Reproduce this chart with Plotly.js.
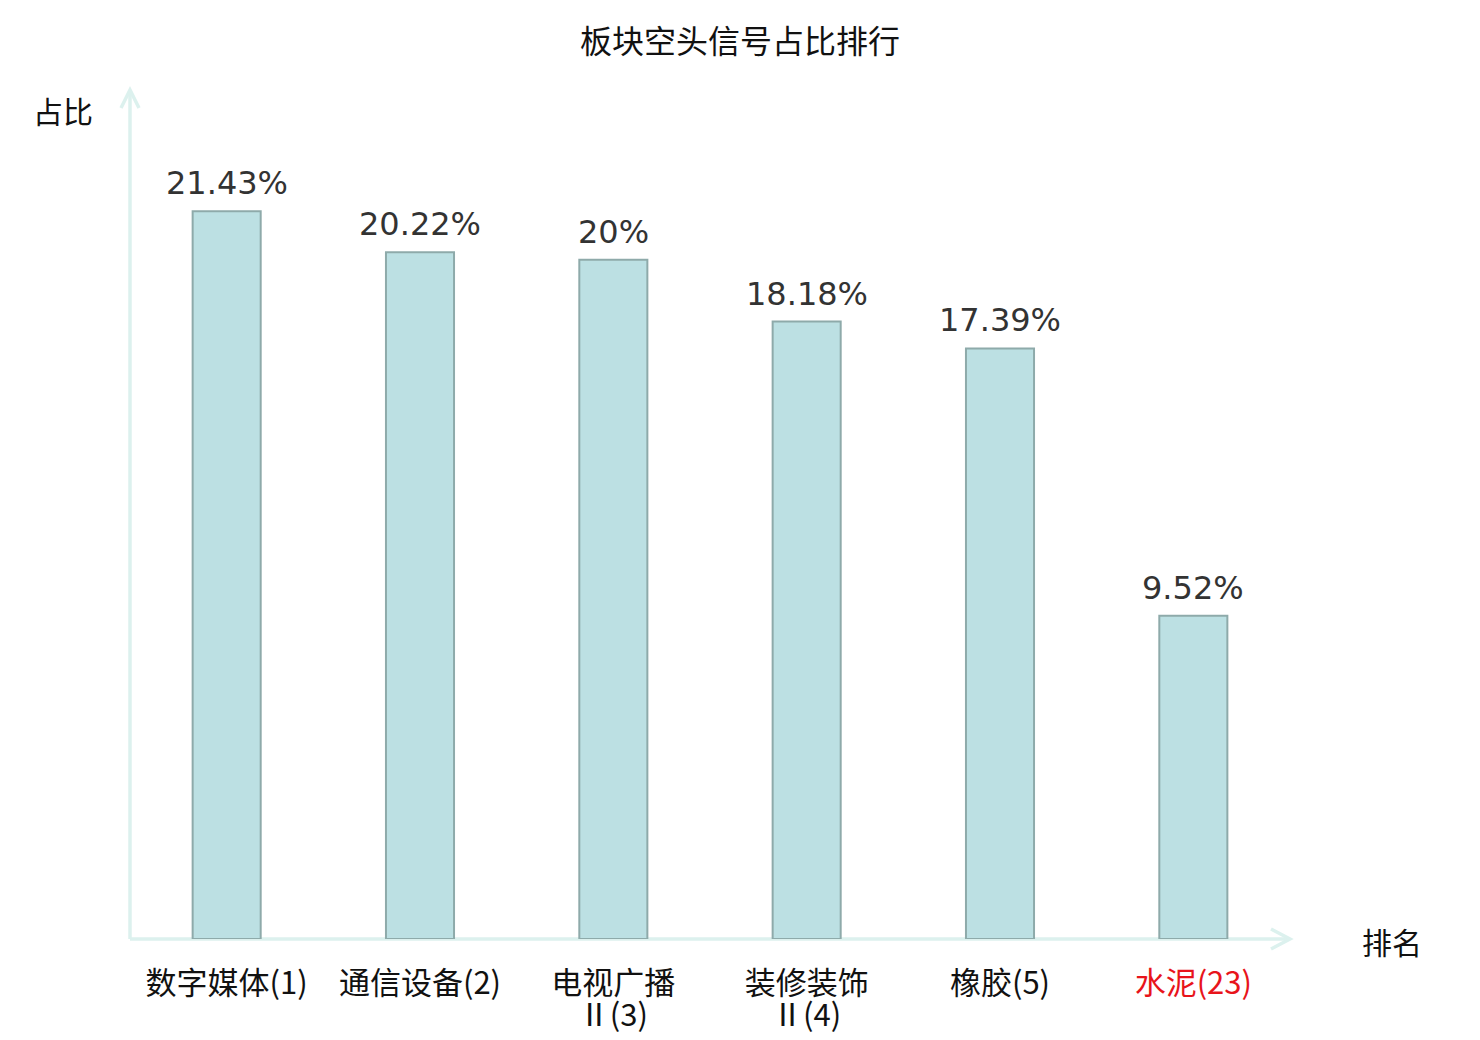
<!DOCTYPE html>
<html>
<head>
<meta charset="utf-8">
<script src="https://cdn.plot.ly/plotly-3.0.1.min.js"></script>
<style>html,body{margin:0;padding:0;background:#fff;}#chart{width:1480px;height:1040px;}</style>
</head>
<body>
<div id="chart"></div>
<script>
const categories = ['数字媒体(1)', '通信设备(2)', '电视广播Ⅱ(3)', '装修装饰Ⅱ(4)', '橡胶(5)', '水泥(23)'];
const tickLine1 = ['数字媒体(1)', '通信设备(2)', '电视广播', '装修装饰', '橡胶(5)', '<span style="color:#e8141b">水泥(23)</span>'];
const tickLine2 = ['', '', 'Ⅱ(3)', 'Ⅱ(4)', '', ''];
const values = [21.43, 20.22, 20, 18.18, 17.39, 9.52];
const valueLabels = ['21.43%', '20.22%', '20%', '18.18%', '17.39%', '9.52%'];

const W = 1480, H = 1040;
const L = 130, R = 1290, T = 90, B = 939;
const px = (dx) => dx / (R - L);
const py = (dy) => dy / (B - T);
const axisColor = '#dcf1ee';
const positions = categories.map((c, i) => i);

const trace = {
  type: 'bar',
  x: positions,
  y: values,
  marker: {color: '#bce0e3', line: {color: '#8eaaaa', width: 2}},
  hoverinfo: 'none'
};
const ghost = {
  type: 'scatter', mode: 'markers',
  x: positions, y: values, xaxis: 'x2', yaxis: 'y',
  marker: {opacity: 0}, hoverinfo: 'none'
};

const labelAnnotations = positions.map((p, i) => ({
  x: p, y: values[i], xref: 'x', yref: 'y',
  text: valueLabels[i], showarrow: false,
  yanchor: 'bottom', yshift: 7,
  font: {family: 'DejaVu Sans', size: 32, color: '#333333'}
}));

const tickFont = {family: 'Noto Sans CJK SC', size: 31, color: '#111111'};

const layout = {
  width: W, height: H,
  margin: {l: L, r: W - R, t: T, b: H - B},
  paper_bgcolor: '#ffffff', plot_bgcolor: '#ffffff',
  showlegend: false,
  bargap: 0.648,
  title: {
    text: '板块空头信号占比排行',
    x: 0.5, xref: 'container', xanchor: 'center',
    y: 1 - 42 / H, yref: 'container', yanchor: 'middle',
    font: {family: 'Noto Sans CJK SC', size: 32, color: '#111111'}
  },
  xaxis: {
    range: [-0.5, 5.5],
    tickmode: 'array', tickvals: positions, ticktext: tickLine1,
    showline: false, showgrid: false, zeroline: false, ticks: '',
    ticklabelstandoff: 23,
    tickfont: tickFont
  },
  xaxis2: {
    overlaying: 'x', anchor: 'y', side: 'bottom',
    range: [-0.5, 5.5],
    tickmode: 'array', tickvals: positions, ticktext: tickLine2,
    showline: false, showgrid: false, zeroline: false, ticks: '',
    ticklabelstandoff: 55,
    tickfont: tickFont
  },
  yaxis: {
    range: [0, 25],
    showline: false, showgrid: false, zeroline: false,
    showticklabels: false, ticks: ''
  },
  shapes: [
    {type: 'line', xref: 'paper', yref: 'paper', x0: 0, y0: 0, x1: 0, y1: 1, layer: 'below', line: {color: axisColor, width: 3.5}},
    {type: 'line', xref: 'paper', yref: 'paper', x0: 0, y0: 0, x1: 1, y1: 0, layer: 'below', line: {color: axisColor, width: 3.5}},
    {type: 'path', xref: 'paper', yref: 'paper', layer: 'below',
      path: 'M' + (-px(9)) + ',' + (1 - py(18)) + ' L0,1 L' + px(9) + ',' + (1 - py(18)),
      line: {color: axisColor, width: 3.5}},
    {type: 'path', xref: 'paper', yref: 'paper', layer: 'below',
      path: 'M' + (1 - px(19)) + ',' + py(10) + ' L1,0 L' + (1 - px(19)) + ',' + (-py(10)),
      line: {color: axisColor, width: 3.5}}
  ],
  annotations: labelAnnotations.concat([
    {xref: 'paper', yref: 'paper', x: -px(67), y: 1 - py(20), xanchor: 'center', yanchor: 'middle',
      text: '占比', showarrow: false, font: {family: 'Noto Sans CJK SC', size: 30, color: '#111111'}},
    {xref: 'paper', yref: 'paper', x: 1 + px(102), y: -py(2), xanchor: 'center', yanchor: 'middle',
      text: '排名', showarrow: false, font: {family: 'Noto Sans CJK SC', size: 30, color: '#111111'}}
  ])
};

Plotly.newPlot('chart', [trace, ghost], layout, {displayModeBar: false, staticPlot: true});
</script>
</body>
</html>
